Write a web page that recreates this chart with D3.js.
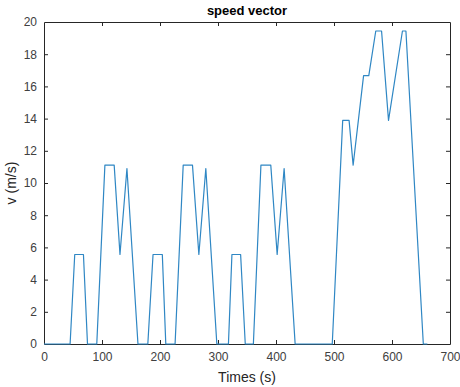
<!DOCTYPE html>
<html>
<head>
<meta charset="utf-8">
<script src="https://cdn.jsdelivr.net/npm/d3@7"></script>
<style>
  body { margin: 0; background: #fff; }
  svg { font-family: "Liberation Sans", Arial, sans-serif; }
  .axis path, .axis line { stroke: #262626; }
  .axis text { fill: #404040; font-size: 12px; }
</style>
</head>
<body>
<svg id="chart" width="460" height="387"></svg>
<script>
// speed profile: time (s) and speed (m/s)
var times  = [0, 45, 53, 68, 75, 91, 105, 121, 131, 143, 162, 179, 188, 204, 210, 226, 240, 256, 267, 279, 298,
              318, 324, 339, 347, 361, 374, 391, 402, 414, 433, 497, 515, 526, 533, 551, 560, 572, 582, 594, 618, 624, 654, 661];
var speeds = [0, 0, 5.56, 5.56, 0, 0, 11.11, 11.11, 5.56, 10.9, 0, 0, 5.56, 5.56, 0, 0, 11.11, 11.11, 5.56, 10.9, 0,
              0, 5.56, 5.56, 0, 0, 11.11, 11.11, 5.56, 10.9, 0, 0, 13.89, 13.89, 11.11, 16.67, 16.67, 19.44, 19.44, 13.89, 19.44, 19.44, 0, 0];
var xTicks = [0, 100, 200, 300, 400, 500, 600, 700];
var yTicks = [0, 2, 4, 6, 8, 10, 12, 14, 16, 18, 20];

var data = times.map(function (t, i) { return { t: t, v: speeds[i] }; });

var margin = { top: 22, right: 10, bottom: 43, left: 44 };
var width = 460 - margin.left - margin.right;
var height = 387 - margin.top - margin.bottom;

var svg = d3.select("#chart");

var x = d3.scaleLinear().domain([0, 700]).range([margin.left, margin.left + width]);
var y = d3.scaleLinear().domain([0, 20]).range([margin.top + height, margin.top]);

var tl = 4; // inward tick length

// bottom / left axes with labels, top / right just ticks (box on)
svg.append("g")
    .attr("class", "axis")
    .attr("transform", "translate(0," + (margin.top + height) + ")")
    .call(d3.axisBottom(x).tickValues(xTicks).tickSizeInner(-tl).tickSizeOuter(0).tickPadding(8))
    .call(g => g.selectAll(".tick").filter(d => d === 0 || d === 700).select("line").remove());

svg.append("g")
    .attr("class", "axis")
    .attr("transform", "translate(" + margin.left + ",0)")
    .call(d3.axisLeft(y).tickValues(yTicks).tickSizeInner(-tl).tickSizeOuter(0).tickPadding(7))
    .call(g => g.selectAll(".tick").filter(d => d === 0 || d === 20).select("line").remove());

svg.append("g")
    .attr("class", "axis")
    .attr("transform", "translate(0," + margin.top + ")")
    .call(d3.axisTop(x).tickValues(xTicks).tickSizeInner(-tl).tickSizeOuter(0).tickFormat(""))
    .call(g => g.selectAll(".tick").filter(d => d === 0 || d === 700).select("line").remove());

svg.append("g")
    .attr("class", "axis")
    .attr("transform", "translate(" + (margin.left + width) + ",0)")
    .call(d3.axisRight(y).tickValues(yTicks).tickSizeInner(-tl).tickSizeOuter(0).tickFormat(""))
    .call(g => g.selectAll(".tick").filter(d => d === 0 || d === 20).select("line").remove());

// the speed line
var line = d3.line()
    .x(d => x(d.t))
    .y(d => y(d.v));

svg.append("path")
    .datum(data)
    .attr("d", line)
    .attr("fill", "none")
    .attr("stroke", "#2f87c4")
    .attr("stroke-width", 1.2)
    .attr("stroke-linejoin", "round");

// title and axis labels
svg.append("text")
    .attr("x", margin.left + width / 2)
    .attr("y", 15)
    .attr("text-anchor", "middle")
    .style("font-size", "13px")
    .style("font-weight", "bold")
    .style("fill", "#000")
    .text("speed vector");

svg.append("text")
    .attr("x", margin.left + width / 2)
    .attr("y", 382)
    .attr("text-anchor", "middle")
    .style("font-size", "14px")
    .style("fill", "#262626")
    .text("Times (s)");

svg.append("text")
    .attr("transform", "translate(16," + (margin.top + height / 2) + ") rotate(-90)")
    .attr("text-anchor", "middle")
    .style("font-size", "14px")
    .style("fill", "#262626")
    .text("v (m/s)");
</script>
</body>
</html>
